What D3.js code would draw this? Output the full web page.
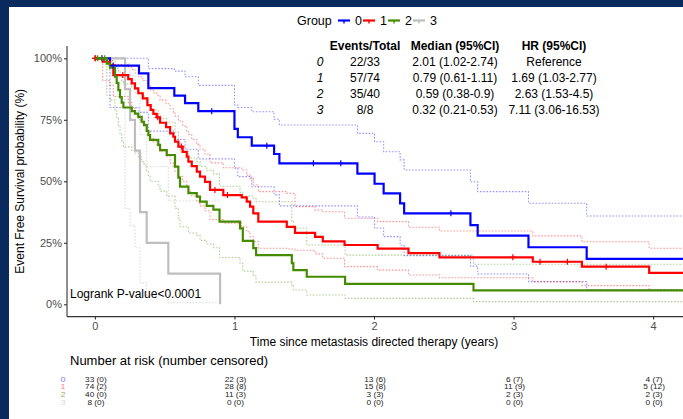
<!DOCTYPE html>
<html>
<head>
<meta charset="utf-8">
<script src="https://cdn.jsdelivr.net/npm/d3@7"></script>
<style>
  html, body { margin: 0; padding: 0; background: #ffffff; }
  svg { display: block; font-family: "Liberation Sans", Arial, Helvetica, sans-serif; }
</style>
</head>
<body>
<svg id="chart" width="683" height="419"></svg>
<script>
// ---- Kaplan-Meier estimates per group (time in years) ----
const groupNames = ["0", "1", "2", "3"];

const time0  = [0.108, 0.316, 0.383, 0.569, 0.646, 0.741, 1.0, 1.024, 1.124, 1.284, 1.322, 1.881, 2.004, 2.069, 2.187, 2.216, 2.691, 2.743, 3.107, 3.524];
const surv0  = [0.97, 0.939, 0.879, 0.848, 0.818, 0.785, 0.713, 0.679, 0.645, 0.611, 0.573, 0.531, 0.49, 0.451, 0.41, 0.37, 0.322, 0.279, 0.232, 0.185];
const upper0 = [1.0, 1.0, 0.958, 0.948, 0.925, 0.89, 0.81, 0.80, 0.783, 0.752, 0.729, 0.695, 0.661, 0.62, 0.587, 0.546, 0.498, 0.458, 0.411, 0.359];
const lower0 = [0.80, 0.78, 0.704, 0.67, 0.63, 0.591, 0.553, 0.519, 0.478, 0.445, 0.40, 0.355, 0.31, 0.275, 0.24, 0.198, 0.155, 0.123, 0.092, 0.06];
const censor0 = [0.05, 0.13, 0.837, 1.232, 1.566, 1.762, 2.551];

const time1  = [0.056, 0.108, 0.132, 0.239, 0.264, 0.287, 0.311, 0.343, 0.376, 0.4, 0.419, 0.443, 0.467, 0.51, 0.539, 0.562, 0.574, 0.598, 0.629, 0.658, 0.67, 0.694, 0.73, 0.753, 0.789, 0.825, 0.92, 1.052, 1.088, 1.112, 1.135, 1.171, 1.375, 1.434, 1.578, 1.633, 1.789, 2.026, 2.247, 2.469, 3.138, 3.49, 3.972];
const surv1  = [0.986, 0.972, 0.932, 0.915, 0.898, 0.878, 0.858, 0.837, 0.81, 0.79, 0.774, 0.76, 0.738, 0.72, 0.695, 0.681, 0.661, 0.641, 0.62, 0.6, 0.58, 0.562, 0.539, 0.519, 0.498, 0.465, 0.444, 0.435, 0.417, 0.397, 0.37, 0.336, 0.315, 0.29, 0.274, 0.256, 0.241, 0.226, 0.208, 0.191, 0.173, 0.153, 0.128];
const upper1 = [0.998, 0.99, 0.975, 0.965, 0.955, 0.94, 0.925, 0.91, 0.89, 0.87, 0.86, 0.85, 0.83, 0.815, 0.795, 0.78, 0.765, 0.745, 0.725, 0.705, 0.69, 0.67, 0.65, 0.63, 0.61, 0.575, 0.555, 0.546, 0.525, 0.512, 0.485, 0.458, 0.451, 0.397, 0.383, 0.376, 0.35, 0.336, 0.313, 0.298, 0.278, 0.254, 0.228];
const lower1 = [0.91, 0.89, 0.845, 0.82, 0.80, 0.775, 0.75, 0.73, 0.70, 0.675, 0.66, 0.645, 0.62, 0.60, 0.575, 0.56, 0.54, 0.52, 0.50, 0.48, 0.46, 0.44, 0.42, 0.40, 0.38, 0.345, 0.33, 0.315, 0.295, 0.275, 0.255, 0.228, 0.225, 0.22, 0.205, 0.187, 0.153, 0.139, 0.119, 0.108, 0.092, 0.076, 0.058];
const censor1 = [0.0, 0.005, 0.2, 0.45, 0.62, 0.86, 0.95, 2.995, 3.19, 3.386, 3.664];

const time2  = [0.085, 0.108, 0.144, 0.156, 0.168, 0.18, 0.192, 0.204, 0.264, 0.287, 0.311, 0.335, 0.352, 0.371, 0.383, 0.395, 0.454, 0.467, 0.515, 0.574, 0.598, 0.61, 0.67, 0.73, 0.753, 0.801, 0.849, 0.893, 1.04, 1.06, 1.135, 1.155, 1.411, 1.422, 1.518, 1.793, 2.713];
const surv2  = [0.978, 0.962, 0.925, 0.9, 0.871, 0.842, 0.82, 0.8, 0.785, 0.775, 0.762, 0.742, 0.728, 0.705, 0.688, 0.668, 0.648, 0.627, 0.607, 0.56, 0.515, 0.478, 0.452, 0.438, 0.417, 0.4, 0.385, 0.336, 0.309, 0.258, 0.228, 0.2, 0.167, 0.139, 0.112, 0.083, 0.057];
const upper2 = [0.997, 0.99, 0.975, 0.96, 0.945, 0.925, 0.91, 0.895, 0.885, 0.875, 0.865, 0.85, 0.84, 0.82, 0.805, 0.79, 0.775, 0.755, 0.74, 0.70, 0.655, 0.62, 0.595, 0.58, 0.56, 0.545, 0.53, 0.48, 0.455, 0.44, 0.43, 0.417, 0.336, 0.31, 0.241, 0.2, 0.163];
const lower2 = [0.85, 0.83, 0.79, 0.76, 0.725, 0.69, 0.665, 0.64, 0.625, 0.615, 0.6, 0.58, 0.565, 0.54, 0.52, 0.5, 0.48, 0.46, 0.44, 0.39, 0.35, 0.315, 0.29, 0.28, 0.26, 0.245, 0.23, 0.19, 0.167, 0.135, 0.115, 0.09, 0.075, 0.058, 0.038, 0.024, 0.011];
const censor2 = [0.02, 0.05, 0.07];

const time3  = [0.216, 0.252, 0.287, 0.323, 0.371, 0.526, 0.897];
const surv3  = [0.875, 0.75, 0.625, 0.375, 0.25, 0.125, 0.0];
const upper3 = [0.98, 0.93, 0.86, 0.69, 0.56, 0.42, null];
const lower3 = [0.39, 0.32, 0.23, 0.087, 0.037, 0.006, null];
const censor3 = [];

const lastFollowUp = [4.4, 4.4, 4.4, 0.897];

// ---- summary table ----
const eventsTotal = ["22/33", "57/74", "35/40", "8/8"];
const medianCI = ["2.01 (1.02-2.74)", "0.79 (0.61-1.11)", "0.59 (0.38-0.9)", "0.32 (0.21-0.53)"];
const hrCI = ["Reference", "1.69 (1.03-2.77)", "2.63 (1.53-4.5)", "7.11 (3.06-16.53)"];
const tableHeaders = ["Events/Total", "Median (95%CI)", "HR (95%CI)"];

// ---- number at risk (number censored) ----
const riskTimes = [0, 1, 2, 3, 4];
const atRisk0 = [33, 22, 13, 6, 4],  censored0 = [0, 3, 6, 7, 7];
const atRisk1 = [74, 28, 15, 11, 5], censored1 = [2, 8, 8, 9, 12];
const atRisk2 = [40, 11, 3, 2, 2],   censored2 = [0, 3, 3, 3, 3];
const atRisk3 = [8, 0, 0, 0, 0],     censored3 = [0, 0, 0, 0, 0];

// ---- axes ----
const xTicks = [0, 1, 2, 3, 4];
const yTicks = [0, 0.25, 0.5, 0.75, 1];
const pValueLabel = "Logrank P-value<0.0001";

// ---------------------------------------------------------------
const colors = ["#0000FF", "#FF0000", "#458B00", "#BEBEBE"];
const lightColors = ["#8080FF", "#FF8080", "#8FBA66", "#DADADA"];

const groups = [
  { t: time0, s: surv0, up: upper0, lo: lower0, cens: censor0 },
  { t: time1, s: surv1, up: upper1, lo: lower1, cens: censor1 },
  { t: time2, s: surv2, up: upper2, lo: lower2, cens: censor2 },
  { t: time3, s: surv3, up: upper3, lo: lower3, cens: censor3 }
];
const riskRows = [
  [atRisk0, censored0], [atRisk1, censored1], [atRisk2, censored2], [atRisk3, censored3]
];

const svg = d3.select("#chart");
const W = 683, H = 419;

svg.append("rect").attr("width", W).attr("height", H).attr("fill", "#ffffff");

// panel geometry
const panel = { left: 67, right: 681, top: 46, bottom: 316.6 };
const x = d3.scaleLinear().domain([-0.2, 4.2]).range([panel.left, panel.right]);
const y = d3.scaleLinear().domain([-0.05, 1.05]).range([panel.bottom, panel.top]);

svg.append("defs").append("clipPath").attr("id", "panelClip")
  .append("rect")
  .attr("x", panel.left).attr("y", panel.top - 4)
  .attr("width", panel.right - panel.left + 2).attr("height", panel.bottom - panel.top + 4);

const plot = svg.append("g").attr("clip-path", "url(#panelClip)");

const stepLine = d3.line()
  .x(d => x(d[0])).y(d => y(d[1]))
  .curve(d3.curveStepAfter);

function curvePoints(g, vals, end) {
  const pts = [[0, 1]];
  for (let i = 0; i < g.t.length; i++) {
    if (vals[i] === null) { pts.push([g.t[i], pts[pts.length - 1][1]]); return pts; }
    pts.push([g.t[i], vals[i]]);
  }
  pts.push([end, vals[vals.length - 1]]);
  return pts;
}

// confidence interval steps (dotted)
groups.forEach((g, i) => {
  [g.up, g.lo].forEach(band => {
    plot.append("path")
      .attr("d", stepLine(curvePoints(g, band, lastFollowUp[i])))
      .attr("fill", "none")
      .attr("stroke", colors[i])
      .attr("stroke-opacity", i === 3 ? 0.55 : 0.42)
      .attr("stroke-width", 1.1)
      .attr("stroke-dasharray", "1.6,1.6");
  });
});

// survival curves: draw group 3 first so others sit on top
[3, 0, 1, 2].forEach(i => {
  const g = groups[i];
  plot.append("path")
    .attr("d", stepLine(curvePoints(g, g.s, lastFollowUp[i])))
    .attr("fill", "none")
    .attr("stroke", colors[i])
    .attr("stroke-width", 2.2)
    .attr("stroke-linejoin", "miter");
});

// censoring marks
function survAt(g, t) {
  let s = 1;
  for (let k = 0; k < g.t.length; k++) { if (g.t[k] <= t) s = g.s[k]; }
  return s;
}
groups.forEach((g, i) => {
  g.cens.forEach(t => {
    const cx = x(t), cy = y(survAt(g, t));
    plot.append("path")
      .attr("d", `M${cx - 3},${cy}H${cx + 3}M${cx},${cy - 3}V${cy + 3}`)
      .attr("stroke", colors[i])
      .attr("stroke-width", 1.2)
      .attr("fill", "none");
  });
});

// axes
const axisColor = "#333333";
const tickText = "#4D4D4D";

const yAxis = svg.append("g").attr("transform", `translate(${panel.left},0)`)
  .call(d3.axisLeft(y).tickValues(yTicks).tickFormat(d3.format(".0%")).tickSize(3).tickPadding(2));
const xAxis = svg.append("g").attr("transform", `translate(0,${panel.bottom})`)
  .call(d3.axisBottom(x).tickValues(xTicks).tickFormat(d3.format("d")).tickSize(3).tickPadding(3));

[yAxis, xAxis].forEach(a => {
  a.select(".domain").attr("stroke", axisColor).attr("stroke-width", 1.1);
  a.selectAll(".tick line").attr("stroke", axisColor).attr("stroke-width", 1.1);
  a.selectAll(".tick text").attr("fill", tickText).attr("font-size", 11)
    .attr("font-family", "Liberation Sans, Arial, sans-serif");
});
yAxis.select(".domain").attr("d", `M0,${panel.top}V${panel.bottom}`);
xAxis.select(".domain").attr("d", `M${panel.left},0H${panel.right + 2}`);

// axis titles
svg.append("text")
  .attr("transform", `translate(24,${(panel.top + panel.bottom) / 2}) rotate(-90)`)
  .attr("text-anchor", "middle")
  .attr("font-size", 12)
  .attr("fill", "#000")
  .text("Event Free Survival probability (%)");

svg.append("text")
  .attr("x", (panel.left + panel.right) / 2)
  .attr("y", 346)
  .attr("text-anchor", "middle")
  .attr("font-size", 12)
  .attr("fill", "#000")
  .text("Time since metastasis directed therapy (years)");

// p-value
svg.append("text")
  .attr("x", 70).attr("y", 297.5)
  .attr("font-size", 12)
  .attr("fill", "#000")
  .text(pValueLabel);

// legend
const legend = svg.append("g").attr("transform", "translate(297,24.5)");
legend.append("text").attr("x", 0).attr("y", 0).attr("font-size", 12.5).attr("fill", "#000").text("Group");
const keyX = [41, 66, 91, 116];
groupNames.forEach((name, i) => {
  const k = legend.append("g").attr("transform", `translate(${keyX[i]},-4)`);
  k.append("line").attr("x1", 0).attr("x2", 12).attr("y1", 0).attr("y2", 0)
    .attr("stroke", colors[i]).attr("stroke-width", 2.2);
  k.append("line").attr("x1", 6).attr("x2", 6).attr("y1", 0).attr("y2", 3)
    .attr("stroke", colors[i]).attr("stroke-width", 1.4);
  legend.append("text").attr("x", keyX[i] + 17).attr("y", 0)
    .attr("font-size", 12.5).attr("fill", "#000").text(name);
});

// summary table
const colCenters = [365, 455, 554];
const headerY = 49.5;
tableHeaders.forEach((h, j) => {
  svg.append("text").attr("x", colCenters[j]).attr("y", headerY)
    .attr("text-anchor", "middle").attr("font-size", 12).attr("font-weight", "bold")
    .attr("fill", "#000").text(h);
});
const rowY = [66, 82, 98, 114];
groupNames.forEach((name, i) => {
  svg.append("text").attr("x", 320).attr("y", rowY[i]).attr("text-anchor", "middle")
    .attr("font-size", 12).attr("font-style", "italic").attr("fill", "#000").text(name);
  [eventsTotal[i], medianCI[i], hrCI[i]].forEach((v, j) => {
    svg.append("text").attr("x", colCenters[j]).attr("y", rowY[i])
      .attr("text-anchor", "middle").attr("font-size", 12).attr("fill", "#000").text(v);
  });
});

// number at risk table (tightly stacked, vertically compressed glyphs)
svg.append("text").attr("x", 70).attr("y", 365)
  .attr("font-size", 13).attr("fill", "#000").text("Number at risk (number censored)");

const riskY = [381.5, 389.2, 396.9, 404.6];
riskRows.forEach((row, i) => {
  svg.append("text")
    .attr("transform", `translate(63,${riskY[i]}) scale(1,0.8)`)
    .attr("text-anchor", "middle")
    .attr("font-size", 9).attr("fill", lightColors[i]).text(groupNames[i]);
  riskTimes.forEach((t, j) => {
    svg.append("text")
      .attr("transform", `translate(${x(t) + 1},${riskY[i]}) scale(0.92,0.8)`)
      .attr("text-anchor", "middle")
      .attr("font-size", 9).attr("fill", "#222").text(`${row[0][j]} (${row[1][j]})`);
  });
});

// frame bands
svg.append("rect").attr("x", 0).attr("y", 0).attr("width", W).attr("height", 7).attr("fill", "#0A2A5E");
svg.append("rect").attr("x", 0).attr("y", 0).attr("width", 9).attr("height", H).attr("fill", "#0A2A5E");
</script>
</body>
</html>
